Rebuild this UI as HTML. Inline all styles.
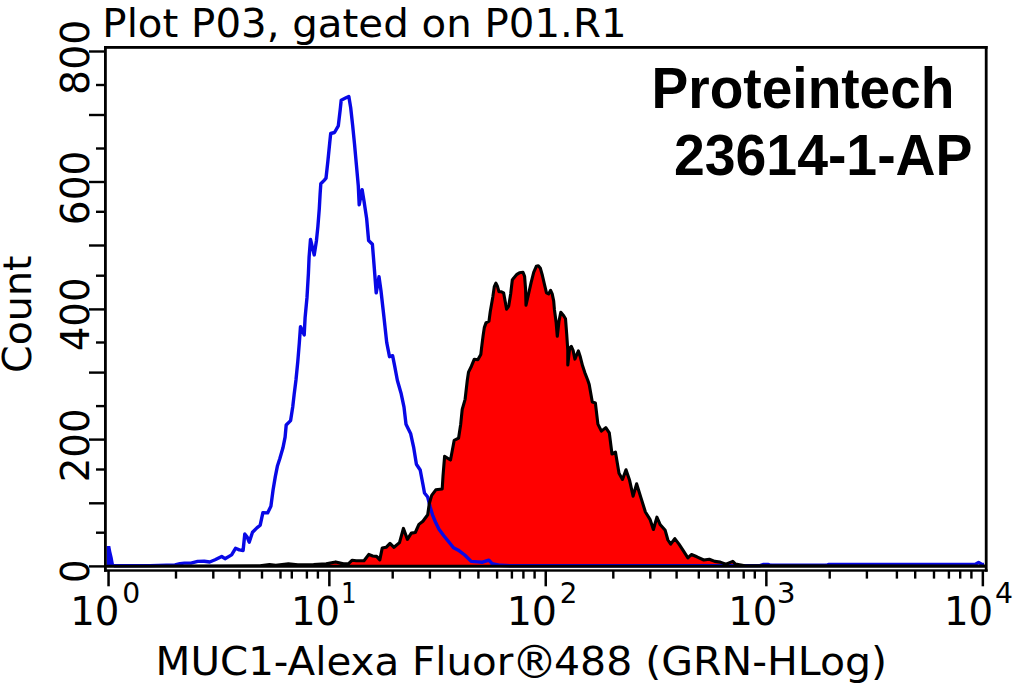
<!DOCTYPE html><html><head><meta charset="utf-8"><title>Plot P03</title>
<style>html,body{margin:0;padding:0;background:#fff;width:1015px;height:683px;overflow:hidden}svg{display:block}.t{font-family:"DejaVu Sans","Liberation Sans",sans-serif;fill:#000}.b{font-family:"Liberation Sans",Arial,sans-serif;font-weight:bold;fill:#000}</style></head><body>
<svg width="1015" height="683" viewBox="0 0 1015 683">
<rect width="1015" height="683" fill="#fff"/>
<polygon points="107.0,566.3 260.0,565.8 269.5,564.6 275.8,565.4 288.4,563.8 297.8,564.9 313.6,564.6 326.2,563.8 335.7,561.9 343.5,563.8 348.3,563.8 352.2,560.2 356.2,560.7 364.0,560.7 368.8,554.4 372.7,556.0 376.6,556.4 379.8,559.9 382.2,548.1 386.1,547.3 390.0,543.3 394.0,547.3 399.5,542.6 403.4,528.4 407.4,539.4 411.3,533.1 415.3,532.5 418.9,524.4 422.9,521.2 427.7,514.8 429.3,503.5 431.7,495.4 435.8,489.8 442.2,489.0 443.0,476.1 444.6,456.4 450.5,460.0 454.2,440.3 458.6,438.1 460.7,424.2 462.2,409.5 465.1,399.3 467.3,380.3 468.5,372.1 471.4,366.2 474.3,359.2 477.8,359.8 480.8,354.5 481.9,345.1 483.1,335.8 484.3,327.6 486.0,322.9 489.0,321.1 490.2,312.0 492.8,296.9 494.3,286.6 495.9,283.1 497.4,286.1 499.0,291.8 501.5,291.8 503.6,292.8 505.1,301.0 506.6,309.2 508.7,306.1 510.7,293.8 512.3,280.0 513.8,277.9 516.9,274.3 519.4,272.8 523.0,272.3 524.6,276.4 525.6,289.7 526.0,305.2 528.1,296.0 531.1,282.7 533.7,272.4 536.3,266.3 538.3,265.8 540.4,268.3 542.4,275.5 544.5,284.7 546.5,292.9 548.6,293.9 550.6,290.3 552.2,293.9 553.7,301.1 554.4,309.4 556.1,322.2 557.3,336.3 559.0,321.1 560.8,312.3 563.7,315.8 565.5,318.7 566.7,334.0 567.8,350.4 567.8,365.0 569.6,348.0 571.3,346.3 573.1,350.4 574.9,359.1 576.6,355.0 578.4,350.9 580.1,356.2 582.5,365.6 584.8,372.6 587.7,380.0 589.2,384.6 592.3,402.1 595.4,403.1 597.9,424.1 601.4,431.1 605.8,427.6 609.3,432.9 612.0,454.0 615.5,452.2 619.0,473.3 622.5,479.5 626.0,469.8 629.6,480.3 633.1,496.2 636.6,483.8 641.0,497.9 645.4,512.0 650.0,519.3 653.4,529.5 656.9,517.2 660.3,524.8 665.2,530.3 667.9,540.0 670.7,544.1 674.8,538.6 679.0,544.1 683.1,550.3 687.9,557.9 691.4,554.5 696.9,556.8 703.8,560.0 709.3,559.3 714.8,561.4 720.3,562.1 725.9,564.1 732.8,561.4 735.5,564.1 745.0,565.8 985.5,566.0 985.5,566.5 107.0,566.5" fill="#ff0000" stroke="none"/>
<polygon points="106.8,546.1 110.3,546.1 111.4,551.8 112.7,557.2 113.8,563.2 114.5,566.0 106.8,566.0" fill="#0808e6"/>
<polyline points="113.8,565.8 150.0,565.6 175.0,565.0 180.0,563.6 184.4,563.1 191.0,563.1 197.6,561.4 204.2,561.2 209.7,562.0 215.1,559.8 221.7,556.5 225.0,558.7 231.6,554.9 235.5,548.3 239.3,549.9 243.1,550.5 244.8,534.0 247.0,536.7 249.2,542.2 252.5,532.3 256.9,527.9 260.2,525.2 262.9,512.6 267.6,512.9 270.9,506.3 273.1,489.8 275.3,476.6 277.5,465.7 279.7,459.0 282.9,448.1 285.1,437.1 286.2,425.0 290.6,420.6 292.8,406.4 294.1,394.9 296.0,379.7 297.8,361.5 299.3,343.2 300.5,326.7 304.2,334.9 305.1,317.6 307.0,297.4 308.4,273.7 309.1,257.1 310.5,239.5 314.2,254.9 316.4,241.0 317.9,226.3 319.3,208.7 320.1,194.1 320.8,183.8 324.4,180.1 326.0,178.2 327.9,161.0 329.8,142.0 330.7,133.5 334.5,132.5 338.3,125.9 340.2,109.7 341.2,100.2 345.0,98.3 348.8,96.4 350.7,107.8 352.6,124.9 354.5,143.9 356.4,164.8 358.3,185.8 359.2,204.8 362.1,189.6 364.0,201.0 366.6,218.2 368.6,240.5 372.4,244.3 374.3,268.1 376.2,292.9 379.0,276.7 381.0,291.0 383.8,315.7 386.7,342.4 389.5,356.7 392.6,355.7 394.5,365.2 397.4,380.5 401.2,393.8 404.0,407.1 406.0,424.3 410.7,433.8 413.6,447.1 416.4,464.3 420.2,470.0 422.9,484.2 424.5,493.0 427.7,497.0 430.1,506.7 432.5,514.8 435.8,522.8 439.0,529.2 443.8,535.7 450.3,543.7 453.5,547.8 458.3,550.2 464.7,555.0 471.2,561.4 477.6,561.9 482.5,562.2 488.9,560.2 492.1,563.6 500.2,565.3 510.0,565.8 760.0,565.6 763.0,564.5 768.0,564.5 771.0,565.3 826.0,565.3 829.0,564.5 975.0,564.5 978.6,562.4 982.0,564.5 984.0,564.5" fill="none" stroke="#0808e6" stroke-width="3.4" stroke-linejoin="round"/>
<polygon points="107.0,566.3 260.0,565.8 269.5,564.6 275.8,565.4 288.4,563.8 297.8,564.9 313.6,564.6 326.2,563.8 335.7,561.9 343.5,563.8 348.3,563.8 352.2,560.2 356.2,560.7 364.0,560.7 368.8,554.4 372.7,556.0 376.6,556.4 379.8,559.9 382.2,548.1 386.1,547.3 390.0,543.3 394.0,547.3 399.5,542.6 403.4,528.4 407.4,539.4 411.3,533.1 415.3,532.5 418.9,524.4 422.9,521.2 427.7,514.8 429.3,503.5 431.7,495.4 435.8,489.8 442.2,489.0 443.0,476.1 444.6,456.4 450.5,460.0 454.2,440.3 458.6,438.1 460.7,424.2 462.2,409.5 465.1,399.3 467.3,380.3 468.5,372.1 471.4,366.2 474.3,359.2 477.8,359.8 480.8,354.5 481.9,345.1 483.1,335.8 484.3,327.6 486.0,322.9 489.0,321.1 490.2,312.0 492.8,296.9 494.3,286.6 495.9,283.1 497.4,286.1 499.0,291.8 501.5,291.8 503.6,292.8 505.1,301.0 506.6,309.2 508.7,306.1 510.7,293.8 512.3,280.0 513.8,277.9 516.9,274.3 519.4,272.8 523.0,272.3 524.6,276.4 525.6,289.7 526.0,305.2 528.1,296.0 531.1,282.7 533.7,272.4 536.3,266.3 538.3,265.8 540.4,268.3 542.4,275.5 544.5,284.7 546.5,292.9 548.6,293.9 550.6,290.3 552.2,293.9 553.7,301.1 554.4,309.4 556.1,322.2 557.3,336.3 559.0,321.1 560.8,312.3 563.7,315.8 565.5,318.7 566.7,334.0 567.8,350.4 567.8,365.0 569.6,348.0 571.3,346.3 573.1,350.4 574.9,359.1 576.6,355.0 578.4,350.9 580.1,356.2 582.5,365.6 584.8,372.6 587.7,380.0 589.2,384.6 592.3,402.1 595.4,403.1 597.9,424.1 601.4,431.1 605.8,427.6 609.3,432.9 612.0,454.0 615.5,452.2 619.0,473.3 622.5,479.5 626.0,469.8 629.6,480.3 633.1,496.2 636.6,483.8 641.0,497.9 645.4,512.0 650.0,519.3 653.4,529.5 656.9,517.2 660.3,524.8 665.2,530.3 667.9,540.0 670.7,544.1 674.8,538.6 679.0,544.1 683.1,550.3 687.9,557.9 691.4,554.5 696.9,556.8 703.8,560.0 709.3,559.3 714.8,561.4 720.3,562.1 725.9,564.1 732.8,561.4 735.5,564.1 745.0,565.8 985.5,566.0 985.5,566.3 107.0,566.3" fill="none" stroke="#000" stroke-width="3.1" stroke-linejoin="round"/>
<rect x="104.0" y="46.0" width="2.8" height="525.7" fill="#000"/>
<rect x="984.8000000000001" y="46.0" width="2.8" height="525.7" fill="#000"/>
<rect x="104.0" y="46.0" width="883.6" height="2.8" fill="#000"/>
<rect x="104.0" y="569.3" width="883.6" height="2.4" fill="#000"/>
<rect x="89" y="565.2" width="15.5" height="2.4" fill="#000"/>
<rect x="89" y="502.1" width="15.5" height="2.4" fill="#000"/>
<rect x="89" y="438.4" width="15.5" height="2.4" fill="#000"/>
<rect x="89" y="371.4" width="15.5" height="2.4" fill="#000"/>
<rect x="89" y="308.2" width="15.5" height="2.4" fill="#000"/>
<rect x="89" y="244.3" width="15.5" height="2.4" fill="#000"/>
<rect x="89" y="180.8" width="15.5" height="2.4" fill="#000"/>
<rect x="89" y="113.8" width="15.5" height="2.4" fill="#000"/>
<rect x="89" y="50.3" width="15.5" height="2.4" fill="#000"/>
<rect x="96" y="531.5" width="8.5" height="2.4" fill="#000"/>
<rect x="96" y="468.3" width="8.5" height="2.4" fill="#000"/>
<rect x="96" y="404.9" width="8.5" height="2.4" fill="#000"/>
<rect x="96" y="341.3" width="8.5" height="2.4" fill="#000"/>
<rect x="96" y="274.5" width="8.5" height="2.4" fill="#000"/>
<rect x="96" y="210.6" width="8.5" height="2.4" fill="#000"/>
<rect x="96" y="147.3" width="8.5" height="2.4" fill="#000"/>
<rect x="96" y="83.8" width="8.5" height="2.4" fill="#000"/>
<rect x="107.3" y="571" width="2.5" height="15.3" fill="#000"/>
<rect x="328.1" y="571" width="2.5" height="15.3" fill="#000"/>
<rect x="544.5" y="571" width="2.5" height="15.3" fill="#000"/>
<rect x="765.1" y="571" width="2.5" height="15.3" fill="#000"/>
<rect x="981.6" y="571" width="2.5" height="15.3" fill="#000"/>
<rect x="174.8" y="571" width="2.4" height="7.6" fill="#000"/>
<rect x="212.1" y="571" width="2.4" height="7.6" fill="#000"/>
<rect x="238.3" y="571" width="2.4" height="7.6" fill="#000"/>
<rect x="260.8" y="571" width="2.4" height="7.6" fill="#000"/>
<rect x="279.3" y="571" width="2.4" height="7.6" fill="#000"/>
<rect x="290.6" y="571" width="2.4" height="7.6" fill="#000"/>
<rect x="305.7" y="571" width="2.4" height="7.6" fill="#000"/>
<rect x="316.7" y="571" width="2.4" height="7.6" fill="#000"/>
<rect x="391.5" y="571" width="2.4" height="7.6" fill="#000"/>
<rect x="428.7" y="571" width="2.4" height="7.6" fill="#000"/>
<rect x="458.7" y="571" width="2.4" height="7.6" fill="#000"/>
<rect x="477.2" y="571" width="2.4" height="7.6" fill="#000"/>
<rect x="495.9" y="571" width="2.4" height="7.6" fill="#000"/>
<rect x="510.7" y="571" width="2.4" height="7.6" fill="#000"/>
<rect x="522.2" y="571" width="2.4" height="7.6" fill="#000"/>
<rect x="533.4" y="571" width="2.4" height="7.6" fill="#000"/>
<rect x="612.1" y="571" width="2.4" height="7.6" fill="#000"/>
<rect x="649.1" y="571" width="2.4" height="7.6" fill="#000"/>
<rect x="675.4" y="571" width="2.4" height="7.6" fill="#000"/>
<rect x="697.6" y="571" width="2.4" height="7.6" fill="#000"/>
<rect x="716.5" y="571" width="2.4" height="7.6" fill="#000"/>
<rect x="727.4" y="571" width="2.4" height="7.6" fill="#000"/>
<rect x="742.5" y="571" width="2.4" height="7.6" fill="#000"/>
<rect x="753.6" y="571" width="2.4" height="7.6" fill="#000"/>
<rect x="828.5" y="571" width="2.4" height="7.6" fill="#000"/>
<rect x="865.7" y="571" width="2.4" height="7.6" fill="#000"/>
<rect x="895.7" y="571" width="2.4" height="7.6" fill="#000"/>
<rect x="914.0" y="571" width="2.4" height="7.6" fill="#000"/>
<rect x="932.8" y="571" width="2.4" height="7.6" fill="#000"/>
<rect x="947.7" y="571" width="2.4" height="7.6" fill="#000"/>
<rect x="959.0" y="571" width="2.4" height="7.6" fill="#000"/>
<rect x="970.2" y="571" width="2.4" height="7.6" fill="#000"/>
<text class="t" x="102.37" y="36.6" font-size="39.4" textLength="524.16" lengthAdjust="spacingAndGlyphs">Plot P03, gated on P01.R1</text>
<text class="b" x="651.57" y="108.2" font-size="57.5" textLength="302.95" lengthAdjust="spacingAndGlyphs">Proteintech</text>
<text class="b" x="674.00" y="175" font-size="57.5" textLength="298.49" lengthAdjust="spacingAndGlyphs">23614-1-AP</text>
<text class="t" x="70.13" y="624.8" font-size="39.9" textLength="49.23" lengthAdjust="spacingAndGlyphs">10</text>
<text class="t" x="122.17" y="602.8" font-size="27.5" textLength="17.97" lengthAdjust="spacingAndGlyphs">0</text>
<text class="t" x="290.93" y="624.8" font-size="39.9" textLength="49.23" lengthAdjust="spacingAndGlyphs">10</text>
<text class="t" x="341.08" y="602.8" font-size="27.5" textLength="15.57" lengthAdjust="spacingAndGlyphs">1</text>
<text class="t" x="506.64" y="624.8" font-size="39.9" textLength="50.40" lengthAdjust="spacingAndGlyphs">10</text>
<text class="t" x="559.83" y="602.8" font-size="27.5" textLength="17.58" lengthAdjust="spacingAndGlyphs">2</text>
<text class="t" x="728.15" y="624.8" font-size="39.9" textLength="49.23" lengthAdjust="spacingAndGlyphs">10</text>
<text class="t" x="776.87" y="602.8" font-size="27.5" textLength="18.84" lengthAdjust="spacingAndGlyphs">3</text>
<text class="t" x="943.93" y="624.8" font-size="39.9" textLength="49.23" lengthAdjust="spacingAndGlyphs">10</text>
<text class="t" x="995.05" y="602.8" font-size="27.5" textLength="18.01" lengthAdjust="spacingAndGlyphs">4</text>
<text class="t" x="155.63" y="674.7" font-size="39.6" textLength="357.67" lengthAdjust="spacingAndGlyphs">MUC1-Alexa Fluor</text>
<text class="t" x="511.5" y="678.4" font-size="46">®</text>
<text class="t" x="553.98" y="674.7" font-size="39.6" textLength="333.05" lengthAdjust="spacingAndGlyphs">488 (GRN-HLog)</text>
<text class="t" transform="translate(89.3,94.90) rotate(-90)" font-size="39.8" textLength="75.12" lengthAdjust="spacingAndGlyphs">800</text>
<text class="t" transform="translate(89.3,225.13) rotate(-90)" font-size="39.8" textLength="74.64" lengthAdjust="spacingAndGlyphs">600</text>
<text class="t" transform="translate(89.3,351.25) rotate(-90)" font-size="39.8" textLength="73.80" lengthAdjust="spacingAndGlyphs">400</text>
<text class="t" transform="translate(89.3,482.28) rotate(-90)" font-size="39.8" textLength="73.94" lengthAdjust="spacingAndGlyphs">200</text>
<text class="t" transform="translate(89.3,583.02) rotate(-90)" font-size="39.8" textLength="23.51" lengthAdjust="spacingAndGlyphs">0</text>
<text class="t" transform="translate(31.2,373.01) rotate(-90)" font-size="39.2" textLength="117.62" lengthAdjust="spacingAndGlyphs">Count</text>
</svg></body></html>
